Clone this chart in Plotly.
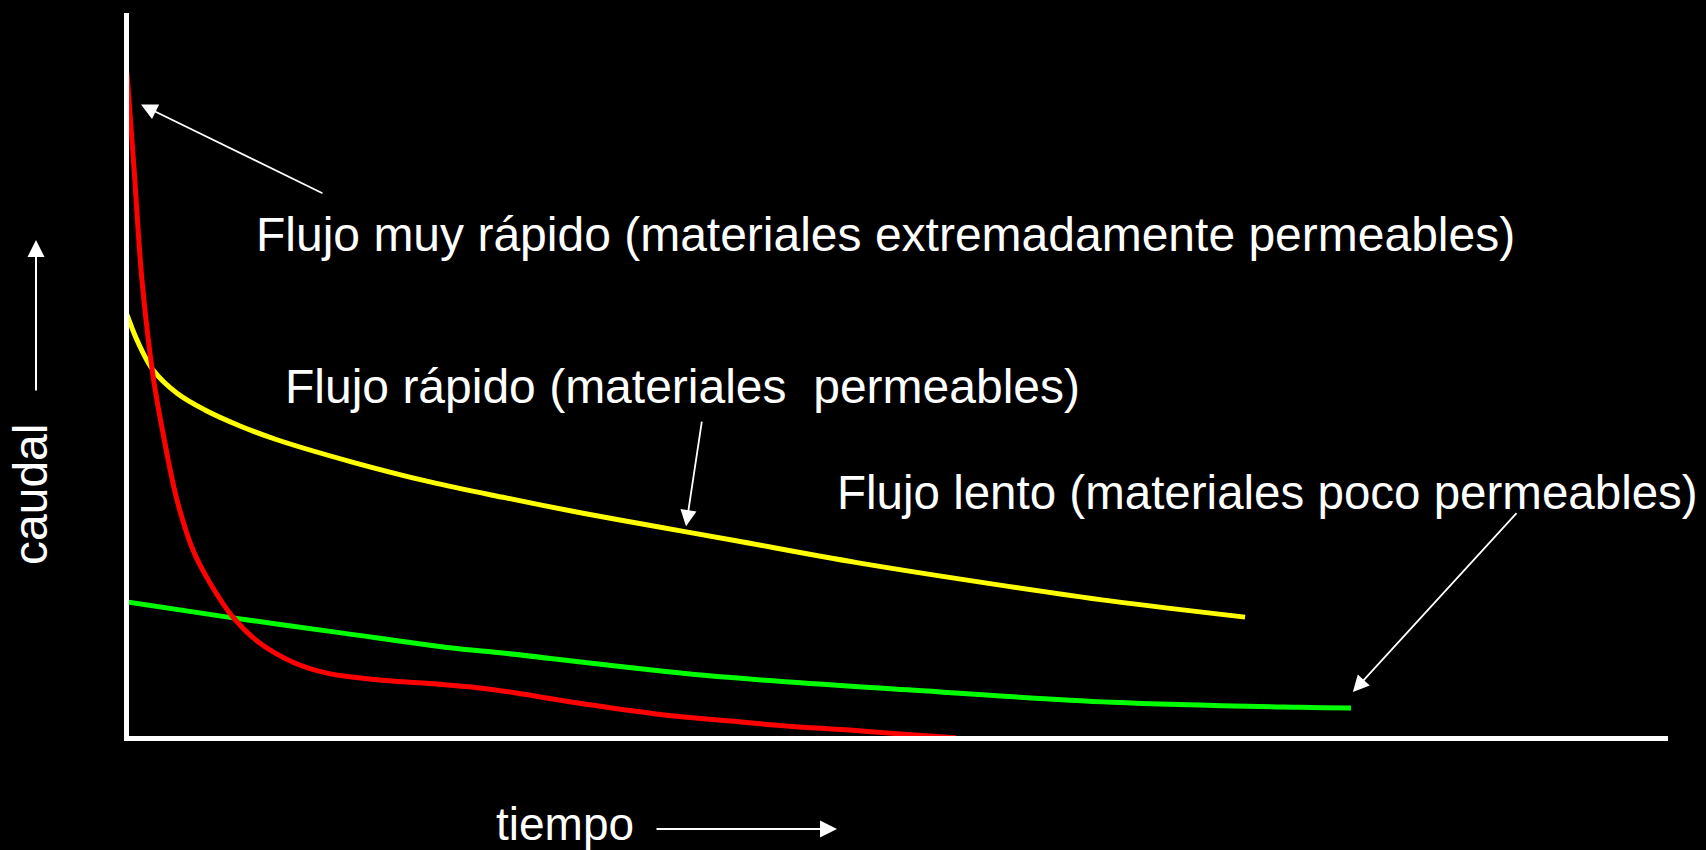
import plotly.graph_objects as go

# ---- data ----
red_t = [0, 0.45, 0.97, 1.69, 2.34, 3.25, 4.29, 5.39, 6.88, 8.64, 10.78,
         12.99, 16.23, 19.48, 22.73, 24.87, 28.05, 31.82, 35.52, 39.22, 42.99,
         46.69, 50.45, 53.83]
red_q = [91.8, 78.8, 63.3, 50.1, 42.2, 33.0, 26.1, 21.6, 16.9, 13.3, 10.7,
         9.2, 8.3, 7.8, 7.2, 6.6, 5.5, 4.3, 3.3, 2.6, 1.9, 1.4, 0.8, 0.3]

yellow_t = [0, 0.65, 1.69, 3.25, 5.06, 7.34, 9.74, 14.68, 19.68, 24.61, 29.61,
            34.55, 39.55, 47.4, 57.34, 63.96, 72.6]
yellow_q = [58.5, 55.0, 50.9, 47.7, 45.4, 43.2, 41.3, 38.2, 35.5, 33.3, 31.2,
            29.3, 27.4, 24.4, 21.1, 19.1, 16.9]

green_t = [0, 6.88, 14.03, 20.52, 24.22, 37.47, 50.71, 63.96, 76.17, 79.48]
green_q = [19.0, 16.8, 14.7, 12.8, 12.0, 8.9, 6.9, 5.2, 4.5, 4.4]

label_fast = "Flujo muy rápido (materiales extremadamente permeables)"
label_mid = "Flujo rápido (materiales  permeables)"
label_slow = "Flujo lento (materiales poco permeables)"
label_x = "tiempo"
label_y = "caudal"

FONT = "Arial, 'Liberation Sans', Helvetica, sans-serif"

# ---- layout geometry ----
W, H = 1706, 850
L, R, T, B = 129, 38, 13, 114

fig = go.Figure()
fig.add_trace(go.Scatter(x=green_t, y=green_q, mode="lines",
                         line=dict(color="#00ff00", width=5, shape="spline"),
                         hoverinfo="skip"))
fig.add_trace(go.Scatter(x=yellow_t, y=yellow_q, mode="lines",
                         line=dict(color="#ffff00", width=5, shape="spline"),
                         hoverinfo="skip"))
fig.add_trace(go.Scatter(x=red_t, y=red_q, mode="lines",
                         line=dict(color="#ff0000", width=5, shape="spline"),
                         hoverinfo="skip"))

def txt(size=48):
    return dict(showarrow=False, font=dict(family=FONT, size=size, color="white"))

ann = []
ann.append(dict(text=label_fast, x=8.25, y=69.5, xref="x", yref="y", xanchor="left", yanchor="middle", **txt()))
ann.append(dict(text=label_mid, x=10.13, y=48.6, xref="x", yref="y", xanchor="left", yanchor="middle", **txt()))
ann.append(dict(text=label_slow, x=45.95, y=34.1, xref="x", yref="y", xanchor="left", yanchor="middle", **txt(47.5)))

arrow = dict(text="", showarrow=True, arrowhead=2, arrowcolor="white",
             arrowwidth=1.8, arrowsize=1.8, standoff=0, startstandoff=0)
ann.append(dict(x=0.91, y=87.4, ax=12.79, ay=75.1, xref="x", yref="y", axref="x", ayref="y", **arrow))
ann.append(dict(x=36.3, y=29.4, ax=37.34, ay=44.0, xref="x", yref="y", axref="x", ayref="y", **arrow))
ann.append(dict(x=79.6, y=6.6, ax=90.32, ay=31.4, xref="x", yref="y", axref="x", ayref="y", **arrow))

pw, ph = W - L - R, H - T - B
def px(xp):
    return (xp - L) / pw
def py(yp):
    return (H - B - yp) / ph

big_arrow = dict(text="", showarrow=True, arrowhead=2, arrowcolor="white",
                 arrowwidth=2, arrowsize=1.7, standoff=0)
ann.append(dict(x=px(36), y=py(240), xref="paper", yref="paper", ax=0, ay=152, **big_arrow))
ann.append(dict(x=px(837), y=py(829), xref="paper", yref="paper", ax=-182, ay=0, **big_arrow))
ann.append(dict(text=label_x, x=px(494), y=py(824), xref="paper", yref="paper",
                xanchor="left", yanchor="middle", **txt(46)))
ann.append(dict(text=label_y, x=px(30), y=py(495), xref="paper", yref="paper",
                xanchor="center", yanchor="middle", textangle=-90, **txt()))

fig.update_layout(
    width=W, height=H, autosize=False,
    margin=dict(l=L, r=R, t=T, b=B, pad=0),
    paper_bgcolor="black", plot_bgcolor="black",
    showlegend=False,
    annotations=ann,
    xaxis=dict(range=[(L - 127) / 15.4, (W - R - 127) / 15.4], showgrid=False, zeroline=False,
               showticklabels=False, ticks="", showline=True, linecolor="white", linewidth=5,
               fixedrange=True),
    yaxis=dict(range=[(740 - (H - B)) / 7.27, (740 - T) / 7.27], showgrid=False, zeroline=False,
               showticklabels=False, ticks="", showline=True, linecolor="white", linewidth=5,
               fixedrange=True),
)

fig.write_html("out.html", config={"displayModeBar": False},
               post_script="document.body.style.margin='0';document.body.style.background='black';"
                           "document.documentElement.style.background='black';")
